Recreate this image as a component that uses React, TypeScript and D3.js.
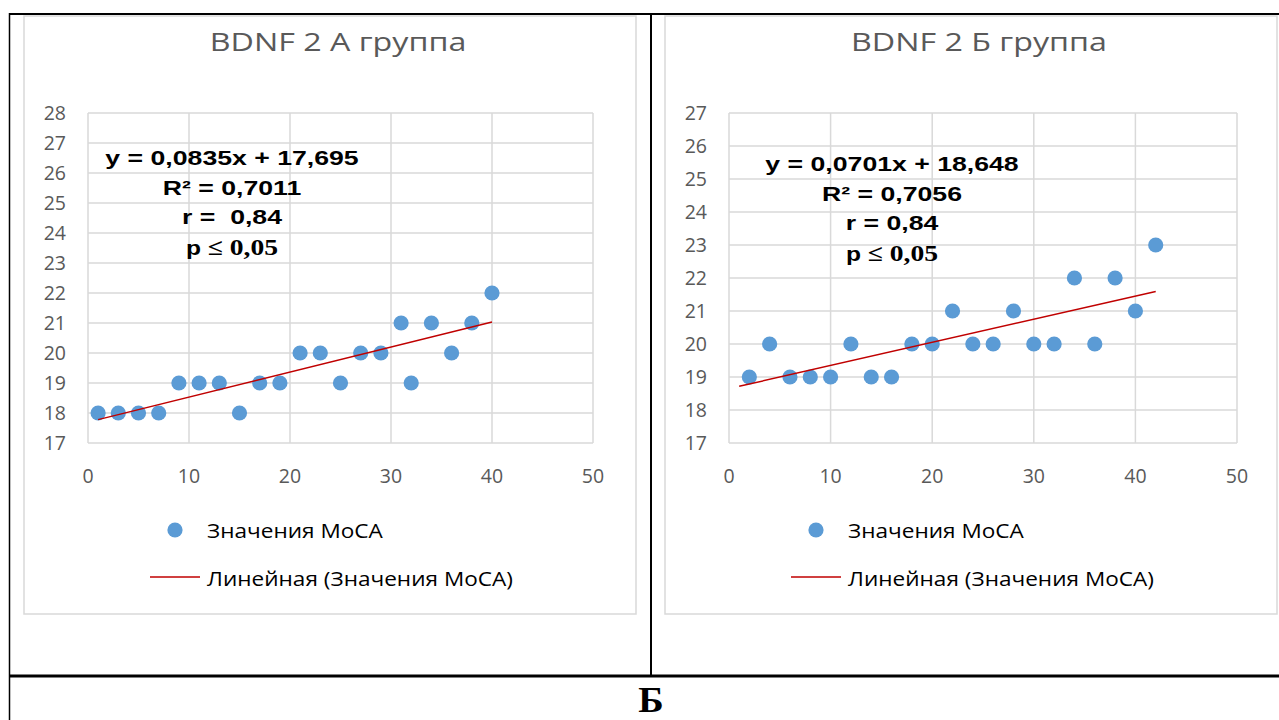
import { useEffect, useRef } from 'react';
import * as d3 from 'd3';

// группа А
const groupAX = [1, 3, 5, 7, 9, 11, 13, 15, 17, 19, 21, 23, 25, 27, 29, 31, 32, 34, 36, 38, 40];
const groupAMoca = [18, 18, 18, 18, 19, 19, 19, 18, 19, 19, 20, 20, 19, 20, 20, 21, 19, 21, 20, 21, 22];
const trendA = [0.0835, 17.695];
const statsA = ['y = 0,0835x + 17,695', 'R² = 0,7011', 'r =  0,84'];
const yTicksA = [17, 18, 19, 20, 21, 22, 23, 24, 25, 26, 27, 28];

// группа Б
const groupBX = [2, 4, 6, 8, 10, 12, 14, 16, 18, 20, 22, 24, 26, 28, 30, 32, 34, 36, 38, 40, 42];
const groupBMoca = [19, 20, 19, 19, 19, 20, 19, 19, 20, 20, 21, 20, 20, 21, 20, 20, 22, 20, 22, 21, 23];
const trendB = [0.0701, 18.648];
const statsB = ['y = 0,0701x + 18,648', 'R² = 0,7056', 'r = 0,84'];
const yTicksB = [17, 18, 19, 20, 21, 22, 23, 24, 25, 26, 27];

const xTicks = [0, 10, 20, 30, 40, 50];
const legendLabels = ['Значения МоСА', 'Линейная (Значения МоСА)'];

const GRID = '#d9d9d9';
const LABEL = '#595959';
const DOT = '#5b9bd5';
const TREND = '#c00000';

const drawPanel = (svg, cfg) => {
  const g = svg.append('g').attr('transform', `translate(${cfg.dx},0)`);

  // рамка диаграммы
  g.append('rect')
    .attr('x', 24).attr('y', 16)
    .attr('width', cfg.frameW).attr('height', 598)
    .attr('fill', 'white').attr('stroke', GRID).attr('stroke-width', 1.5);

  g.append('text')
    .attr('transform', 'translate(338,51) scale(1.24,1)')
    .attr('text-anchor', 'middle')
    .style('font-family', '"Open Sans"').style('font-size', '26px')
    .attr('fill', LABEL)
    .text(cfg.title);

  const yDomain = d3.extent(cfg.yTicks);
  const x = d3.scaleLinear().domain([0, 50]).range([88, 88 + cfg.plotW]);
  const y = d3.scaleLinear().domain(yDomain).range([443, 113]);

  g.append('g')
    .selectAll('line')
    .data(cfg.yTicks)
    .join('line')
      .attr('x1', x(0)).attr('x2', x(50))
      .attr('y1', d => y(d)).attr('y2', d => y(d))
      .attr('stroke', GRID).attr('stroke-width', 1.5);

  g.append('g')
    .selectAll('line')
    .data(xTicks)
    .join('line')
      .attr('x1', d => x(d)).attr('x2', d => x(d))
      .attr('y1', y(yDomain[0])).attr('y2', y(yDomain[1]))
      .attr('stroke', GRID).attr('stroke-width', 1.5);

  g.append('g')
    .selectAll('text')
    .data(cfg.yTicks)
    .join('text')
      .attr('x', x(0) - 22).attr('y', d => y(d) + 7)
      .attr('text-anchor', 'end')
      .style('font-family', '"Open Sans"').style('font-size', '19.5px')
      .attr('fill', LABEL)
      .text(d => d);

  g.append('g')
    .selectAll('text')
    .data(xTicks)
    .join('text')
      .attr('x', d => x(d)).attr('y', 483)
      .attr('text-anchor', 'middle')
      .style('font-family', '"Open Sans"').style('font-size', '19.5px')
      .attr('fill', LABEL)
      .text(d => d);

  const points = cfg.xs.map((v, i) => [v, cfg.ys[i]]);
  g.append('g')
    .selectAll('circle')
    .data(points)
    .join('circle')
      .attr('cx', d => x(d[0])).attr('cy', d => y(d[1]))
      .attr('r', 7.6)
      .attr('fill', DOT);

  const [k, b] = cfg.trend;
  const xEnds = d3.extent(cfg.xs);
  const line = d3.line().x(d => x(d)).y(d => y(k * d + b));
  g.append('path')
    .attr('d', line([cfg.trendStart, xEnds[1]]))
    .attr('fill', 'none').attr('stroke', TREND).attr('stroke-width', 1.5);

  // уравнение тренда
  cfg.stats.forEach((s, i) => {
    g.append('text')
      .attr('transform', `translate(${cfg.statsX},${cfg.statsY + i * 29.5}) scale(1.3,1)`)
      .attr('text-anchor', 'middle')
      .style('font-family', '"Liberation Sans"').style('font-size', '20.5px').style('font-weight', 'bold')
      .style('white-space', 'pre')
      .attr('fill', 'black')
      .text(s);
  });
  const p = g.append('text')
    .attr('transform', `translate(${cfg.statsX},${cfg.statsY + 3 * 29.5 + 1}) scale(1.2,1)`)
    .attr('text-anchor', 'middle')
    .style('font-weight', 'bold')
    .attr('fill', 'black');
  p.append('tspan').style('font-family', '"Liberation Sans"').style('font-size', '20.5px').text('p ');
  p.append('tspan').style('font-family', '"Liberation Serif"').style('font-size', '23px').text('≤ 0,05');

  // легенда
  g.append('circle').attr('cx', 175).attr('cy', 530).attr('r', 7.6).attr('fill', DOT);
  g.append('line')
    .attr('x1', 150).attr('x2', 200).attr('y1', 577).attr('y2', 577)
    .attr('stroke', TREND).attr('stroke-width', 1.5);
  g.append('g')
    .selectAll('text')
    .data(legendLabels)
    .join('text')
      .attr('transform', (d, i) => `translate(207,${538 + i * 48}) scale(1.13,1)`)
      .style('font-family', '"Open Sans"').style('font-size', '20px')
      .attr('fill', 'black')
      .text(d => d);
};

const App = () => {
  const svgRef = useRef(null);

  useEffect(() => {
    const svg = d3.select(svgRef.current);
    svg.selectAll('*').remove();

    svg.append('rect').attr('width', 1279).attr('height', 720).attr('fill', 'white');

    drawPanel(svg, {
      dx: 0, frameW: 612, plotW: 505, title: 'BDNF 2 А группа',
      xs: groupAX, ys: groupAMoca, trend: trendA, trendStart: 1,
      stats: statsA, statsX: 232, statsY: 165, yTicks: yTicksA,
    });
    drawPanel(svg, {
      dx: 641, frameW: 612, plotW: 508, title: 'BDNF 2 Б группа',
      xs: groupBX, ys: groupBMoca, trend: trendB, trendStart: 1,
      stats: statsB, statsX: 251, statsY: 171, yTicks: yTicksB,
    });

    // линии таблицы
    const border = svg.append('g').attr('stroke', 'black');
    border.append('line').attr('x1', 9).attr('x2', 1279).attr('y1', 14).attr('y2', 14).attr('stroke-width', 2);
    border.append('line').attr('x1', 9.5).attr('x2', 9.5).attr('y1', 13).attr('y2', 720).attr('stroke-width', 1.5);
    border.append('line').attr('x1', 651).attr('x2', 651).attr('y1', 13).attr('y2', 676).attr('stroke-width', 2);
    border.append('line').attr('x1', 9).attr('x2', 1279).attr('y1', 676).attr('y2', 676).attr('stroke-width', 3);

    svg.append('text')
      .attr('transform', 'translate(651,712) scale(1.1,1)')
      .attr('text-anchor', 'middle')
      .style('font-family', '"Liberation Serif"').style('font-size', '35px').style('font-weight', 'bold')
      .text('Б');
  }, []);

  return <svg ref={svgRef} width={1279} height={720} style={{ position: 'absolute', left: 0, top: 0 }} />;
};

export default App;
